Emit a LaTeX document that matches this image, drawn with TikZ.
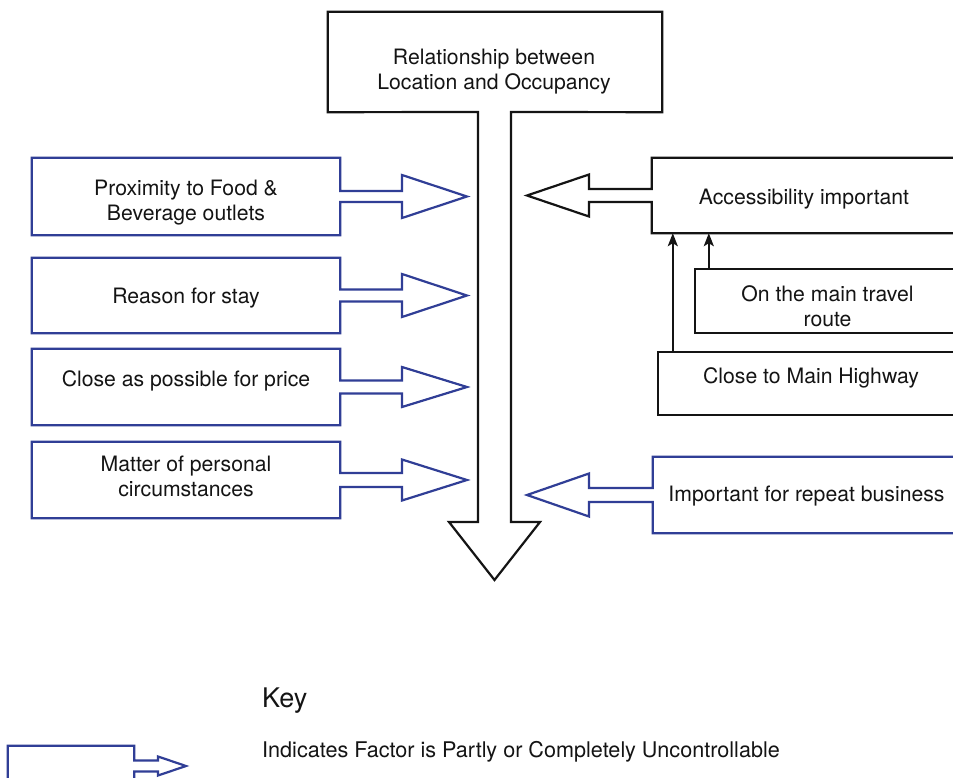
\documentclass[tikz,border=0pt]{standalone}
\usepackage{fontspec}
\setmainfont{TeX Gyre Heros}
\usetikzlibrary{arrows.meta,calc}

\definecolor{factorblue}{RGB}{48,62,150}
\definecolor{inkblack}{RGB}{20,20,20}

% block arrow pointing right, drawn around a factor box
\newcommand\rightfactor[6]{% node, shaft half, head start x, head half, tip x, style
  \draw[#6] let \p1=(#1.east) in
    (#1.north west) -- (#1.north east) -- (\x1,\y1+#2pt) -- (#3pt,\y1+#2pt)
    -- (#3pt,\y1+#4pt) -- (#5pt,\y1) -- (#3pt,\y1-#4pt) -- (#3pt,\y1-#2pt)
    -- (\x1,\y1-#2pt) -- (#1.south east) -- (#1.south west) -- cycle;}
% block arrow pointing left, drawn around a box on the right
\newcommand\leftfactor[6]{%
  \draw[#6] let \p1=(#1.west) in
    (#1.north east) -- (#1.north west) -- (\x1,\y1+#2pt) -- (#3pt,\y1+#2pt)
    -- (#3pt,\y1+#4pt) -- (#5pt,\y1) -- (#3pt,\y1-#4pt) -- (#3pt,\y1-#2pt)
    -- (\x1,\y1-#2pt) -- (#1.south west) -- (#1.south east) -- cycle;}

\begin{document}
\begin{tikzpicture}[x=1pt,y=-1pt,
  frame/.style={draw=none,inner sep=0pt,minimum width=#1pt},
  bluefr/.style={draw=factorblue,line width=2.2pt,line join=miter},
  blackfr/.style={draw=inkblack,line width=2.2pt,line join=miter},
  lbl/.style={align=center,font=\fontsize{21.2}{25}\selectfont,text=inkblack,inner sep=0pt},
  uparrow/.style={draw=inkblack,line width=2pt,-{Stealth[length=13pt,width=10pt,inset=3pt]}}]

\clip (0,0) rectangle (953,778);
\fill[white] (0,0) rectangle (953,778);

% central outcome box with the downward arrow
\node[frame=334,minimum height=100pt] (top) at (495,62) {};
\node[lbl] (toplbl) at (494,72) {Relationship between\\Location and Occupancy};
\draw[blackfr] (478,112) -- (top.south west) -- (top.north west) -- (top.north east)
  -- (top.south east) -- (511,112) -- (511,522) -- (540,522) -- (494.5,580)
  -- (449,522) -- (478,522) -- cycle;

% factors on the left
\node[frame=308,minimum height=77pt] (f1) at (186,196.5) {};
\node[frame=308,minimum height=75pt] (f2) at (186,295.5) {};
\node[frame=308,minimum height=76pt] (f3) at (186,387) {};
\node[frame=308,minimum height=76pt] (f4) at (186,480) {};
\rightfactor{f1}{5.5}{402}{21.5}{467}{bluefr}
\rightfactor{f2}{6}{402}{21.5}{467}{bluefr}
\rightfactor{f3}{6.5}{402}{20}{467}{bluefr}
\rightfactor{f4}{7}{402}{20.5}{467}{bluefr}
\node[lbl] at ($(f1.center)+(0,6)$) {Proximity to Food \&\\Beverage outlets};
\node[lbl] at ($(f2.center)+(0,3)$) {Reason for stay};
\node[lbl] at ($(f3.center)+(0,-6)$) {Close as possible for price};
\node[lbl] at ($(f4.center)+(0,-4)$) {Matter of personal\\circumstances};

% factors on the right
\node[frame=308,minimum height=75pt] (acc) at (806,195.5) {};
\node[frame=265,minimum height=64pt] (route) at (827.5,301) {};
\node[frame=302,minimum height=63pt] (hwy) at (809,383.5) {};
\node[frame=307,minimum height=76pt] (rep) at (806.5,495) {};
\leftfactor{acc}{6.5}{589}{21}{527}{blackfr}
\draw[blackfr] (route.north west) rectangle (route.south east);
\draw[blackfr] (hwy.north west) rectangle (hwy.south east);
\leftfactor{rep}{7}{589}{21.5}{527}{bluefr}
\node[lbl] at ($(acc.center)+(-2,4)$) {Accessibility important};
\node[lbl] at ($(route.center)+(0,5)$) {On the main travel\\route};
\node[lbl] at ($(hwy.center)+(2,-6)$) {Close to Main Highway};
\node[lbl] at ($(rep.center)+(0,1)$) {Important for repeat business};

\draw[uparrow] ([xshift=15pt]hwy.north west) -- ([xshift=15pt]hwy.north west |- acc.south);
\draw[uparrow] ([xshift=14pt]route.north west) -- ([xshift=14pt]route.north west |- acc.south);

% key
\node[anchor=base west,inner sep=0pt,font=\fontsize{27}{32}\selectfont,text=inkblack] (keyttl) at (262,707) {Key};
\node[frame=126,minimum height=40pt] (keybox) at (71,766) {};
\rightfactor{keybox}{5.5}{158}{9.5}{186}{bluefr}
\node[anchor=base west,lbl,font=\fontsize{21.6}{25}\selectfont] (keytxt) at (262,757) {Indicates Factor is Partly or Completely Uncontrollable};
\end{tikzpicture}
\end{document}
